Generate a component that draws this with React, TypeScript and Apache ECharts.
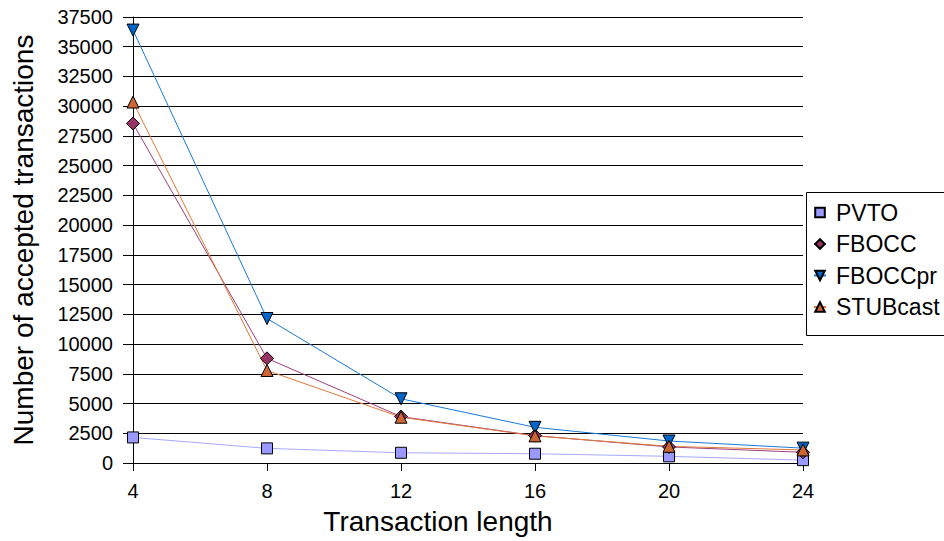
import React, { useEffect, useRef } from "react";
import * as echarts from "echarts";

const FONT = "'Liberation Sans', Arial, sans-serif";

const xValues = [4, 8, 12, 16, 20, 24];
const pvto = [2150, 1230, 860, 780, 560, 240];
const fbocc = [28550, 8800, 3900, 2300, 1350, 900];
const fboccpr = [36400, 12150, 5400, 3000, 1850, 1250];
const stubcast = [30350, 7780, 3850, 2280, 1400, 1100];

const seriesNames = ["PVTO", "FBOCC", "FBOCCpr", "STUBcast"];

const pair = (ys: number[]) => xValues.map((x, i) => [x, ys[i]]);

export default function App() {
  const ref = useRef<HTMLDivElement>(null);
  useEffect(() => {
    if (!ref.current) return;
    const chart = echarts.init(ref.current, undefined, { renderer: "svg" });
    const mk = (
      name: string,
      data: number[],
      symbol: string,
      size: number,
      fill: string,
      line: string,
      rotate = 0
    ) => ({
      name,
      type: "line",
      data: pair(data),
      symbol,
      symbolSize: size,
      symbolRotate: rotate,
      showSymbol: true,
      lineStyle: { color: line, width: 1 },
      itemStyle: { color: fill, borderColor: "#000", borderWidth: 1 },
      emphasis: { disabled: true },
    });
    chart.setOption({
      animation: false,
      backgroundColor: "#fff",
      grid: { left: 133, right: 141, top: 17, bottom: 78, containLabel: false },
      xAxis: {
        type: "value",
        min: 4,
        max: 24,
        interval: 4,
        name: "Transaction length",
        nameLocation: "middle",
        nameGap: 44,
        nameTextStyle: {
          fontSize: 28,
          fontFamily: FONT,
          color: "#000",
          padding: [0, 60, 0, 0],
        },
        axisLine: { show: true, lineStyle: { color: "#000", width: 1 } },
        axisTick: { show: true, length: 8, lineStyle: { color: "#000" } },
        axisLabel: { fontSize: 20, fontFamily: FONT, color: "#000", margin: 18 },
        splitLine: { show: false },
      },
      yAxis: {
        type: "value",
        min: 0,
        max: 37500,
        interval: 2500,
        name: "Number of accepted transactions",
        nameLocation: "middle",
        nameGap: 96,
        nameRotate: 90,
        nameTextStyle: { fontSize: 28, fontFamily: FONT, color: "#000" },
        axisLine: { show: true, lineStyle: { color: "#000", width: 1 } },
        axisTick: { show: true, length: 10, lineStyle: { color: "#000" } },
        axisLabel: {
          fontSize: 20,
          fontFamily: FONT,
          color: "#000",
          margin: 20,
          formatter: (v: number) => String(v),
        },
        splitLine: { show: true, lineStyle: { color: "#000", width: 1 } },
      },
      graphic: [
        {
          type: "rect",
          z: 3,
          shape: { x: 806.5, y: 192.5, width: 200, height: 143 },
          style: { fill: "#fff", stroke: "#000", lineWidth: 1 },
        },
      ],
      legend: {
        orient: "vertical",
        left: 806,
        top: 192,
        z: 5,
        itemWidth: 12,
        itemHeight: 12,
        itemGap: 8.5,
        padding: [9, 20, 18, 7],
        borderWidth: 0,
        backgroundColor: "transparent",
        textStyle: { fontSize: 23, fontFamily: FONT, color: "#000", padding: [0, 0, 0, 5] },
        data: seriesNames,
      },
      series: [
        mk("PVTO", pvto, "rect", 11, "#9999ff", "#a8a8ff"),
        mk("FBOCC", fbocc, "diamond", 13, "#993366", "#a0407a"),
        mk("FBOCCpr", fboccpr, "triangle", 12, "#0066cc", "#1a7ad8", 180),
        mk("STUBcast", stubcast, "triangle", 12, "#cc6633", "#e0783a"),
      ],
    });
    return () => chart.dispose();
  }, []);
  return (
    <div
      ref={ref}
      style={{ position: "fixed", left: 0, top: 0, width: 944, height: 541 }}
    />
  );
}
